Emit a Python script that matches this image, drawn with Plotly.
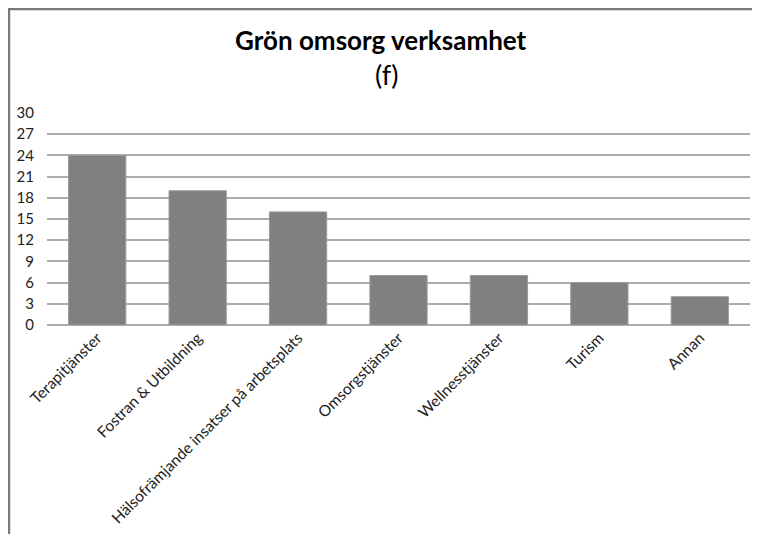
import plotly.graph_objects as go

categories = ["Terapitjänster", "Fostran & Utbildning", "Hälsofrämjande insatser på arbetsplats",
              "Omsorgstjänster", "Wellnesstjänster", "Turism", "Annan"]
values = [24, 19, 16, 7, 7, 6, 4]
y_ticks = list(range(0, 31, 3))

# page has an 8px body margin on every side, so the figure is sized to fit inside the window
OFF = 8
W, H = 760 - 2 * OFF, 542 - 2 * OFF
ml, mt = 47 - OFF, 113 - OFF
mr = W - (750 - OFF)
mb = H - (325 - OFF)
font = "Lato, 'Open Sans', sans-serif"

fig = go.Figure()
fig.add_trace(go.Bar(
    x=categories, y=values,
    marker=dict(color="#808080", line=dict(color="#9a9a9a", width=1)),
    width=0.57,
))


# page pixel -> paper coords
def px(x):
    return (x - OFF - ml) / (W - ml - mr)


def py(y):
    return (H - mb - (y - OFF)) / (H - mt - mb)


# outer frame: top and left edges only
fig.add_shape(type="line", xref="paper", yref="paper", x0=px(8), x1=px(752), y0=py(9), y1=py(9),
              line=dict(color="#7a7a7a", width=2.5))
fig.add_shape(type="line", xref="paper", yref="paper", x0=px(9), x1=px(9), y0=py(8), y1=py(534),
              line=dict(color="#7a7a7a", width=2.5))

fig.add_annotation(text="<b>Grön omsorg verksamhet</b>", xref="paper", yref="paper",
                   x=px(381), y=py(40), showarrow=False, xanchor="center", yanchor="middle",
                   font=dict(family=font, size=26, color="#000000"))
fig.add_annotation(text="(f)", xref="paper", yref="paper",
                   x=px(387), y=py(75), showarrow=False, xanchor="center", yanchor="middle",
                   font=dict(family=font, size=27, color="#000000"))

fig.update_layout(
    width=W, height=H,
    margin=dict(l=ml, r=mr, t=mt, b=mb, autoexpand=False),
    paper_bgcolor="white", plot_bgcolor="white",
    showlegend=False,
    font=dict(family=font, size=15, color="#222222"),
    xaxis=dict(tickangle=-45, showgrid=False, showline=False, ticks="", tickfont=dict(size=15.5),
               automargin=False),
    yaxis=dict(range=[0, 30], tickvals=y_ticks, showgrid=True, gridcolor="#acacac", gridwidth=1.5,
               zeroline=True, zerolinecolor="#acacac", zerolinewidth=1.5, showline=False,
               ticks="", tickfont=dict(size=15), automargin=False, ticklabelstandoff=12),
)

fig.write_html("out.html", config={"displayModeBar": False})
